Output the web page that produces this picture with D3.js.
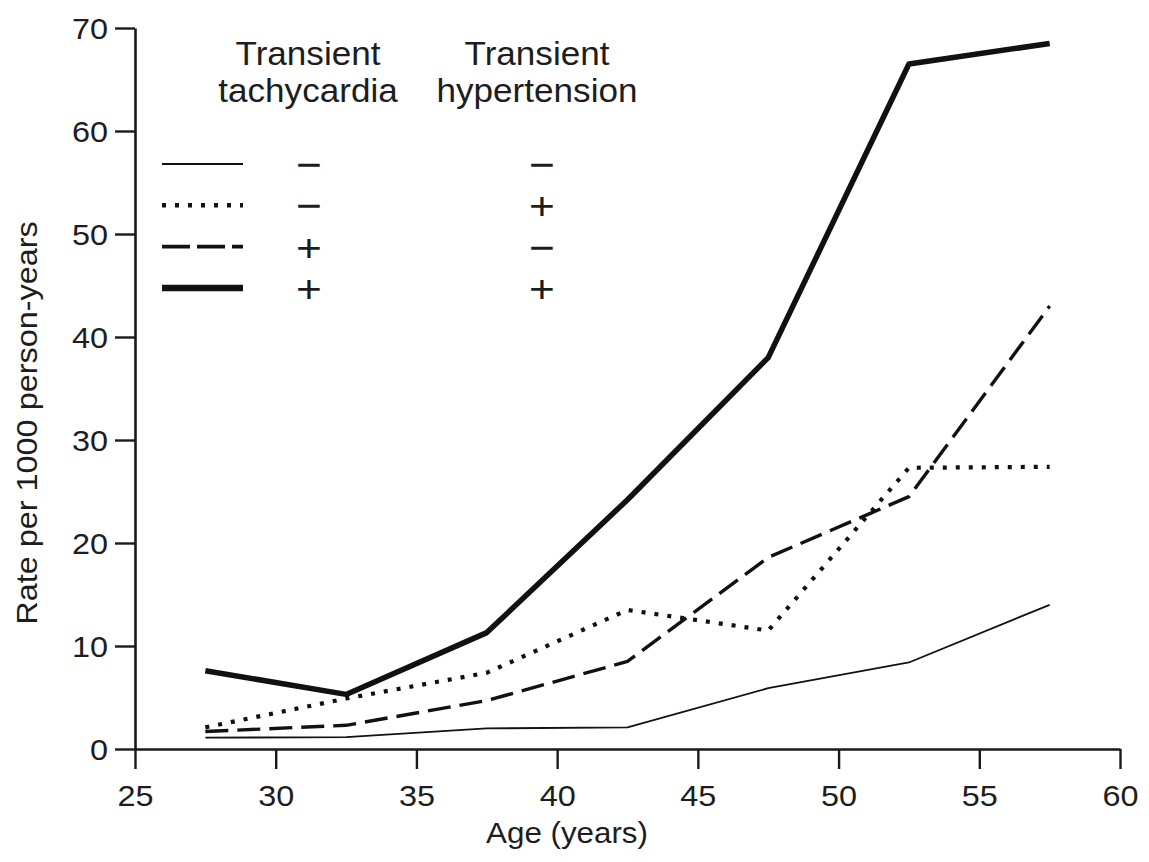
<!DOCTYPE html>
<html>
<head>
<meta charset="utf-8">
<script src="https://cdn.jsdelivr.net/npm/d3@7"></script>
<style>
  body { margin: 0; background: #fff; }
  text { font-family: "Liberation Sans", Arial, sans-serif; fill: #1d1d1d; }
</style>
</head>
<body>
<div id="chart"></div>
<script>
// data (age group midpoints, rate per 1000 person-years)
const ages = [27.5, 32.5, 37.5, 42.5, 47.5, 52.5, 57.5];
const neither = [1.1, 1.15, 2.0, 2.1, 5.9, 8.4, 14.0];     // tachy -, hyper -
const hyperOnly = [2.1, 4.9, 7.4, 13.5, 11.5, 27.3, 27.4];  // tachy -, hyper +
const tachyOnly = [1.7, 2.3, 4.7, 8.5, 18.6, 24.5, 43.0];   // tachy +, hyper -
const both = [7.6, 5.3, 11.3, 24.2, 38.0, 66.5, 68.5];      // tachy +, hyper +

const xTicks = [25, 30, 35, 40, 45, 50, 55, 60];
const yTicks = [0, 10, 20, 30, 40, 50, 60, 70];
const legendTachy = ['−', '−', '+', '+'];
const legendHyper = ['−', '+', '−', '+'];

const width = 1149;
const height = 862;
const sx = 1.08; // the figure's font is a little wider than Arial

const svg = d3.select('#chart').append('svg')
  .attr('width', width)
  .attr('height', height);

const x = d3.scaleLinear().domain([25, 60]).range([135, 1120]);
const y = d3.scaleLinear().domain([0, 70]).range([749, 28]);

// line styles, same order as the legend rows
const styles = [
  { values: neither,   width: 1.8, dash: null },
  { values: hyperOnly, width: 4.2, dash: '4,9' },
  { values: tachyOnly, width: 3.4, dash: '23,9' },
  { values: both,      width: 5.5, dash: null }
];

// axes
const xAxis = d3.axisBottom(x).tickValues(xTicks).tickSize(20).tickSizeOuter(0);
const yAxis = d3.axisLeft(y).tickValues(yTicks).tickSize(20).tickSizeOuter(0);

const gx = svg.append('g').attr('transform', `translate(0, ${y(0)})`).call(xAxis);
const gy = svg.append('g').attr('transform', `translate(${x(25)}, 0)`).call(yAxis);

[gx, gy].forEach(g => {
  g.select('.domain').attr('stroke', '#1a1a1a').attr('stroke-width', 2.6);
  g.selectAll('.tick line').attr('stroke', '#1a1a1a').attr('stroke-width', 2.4);
  g.selectAll('.tick text')
    .attr('font-size', 30)
    .attr('fill', '#1d1d1d')
    .attr('font-family', '"Liberation Sans", Arial, sans-serif');
});

gx.selectAll('.tick text')
  .attr('y', 57)
  .attr('dy', null)
  .attr('transform', `scale(${sx},1)`);

gy.selectAll('.tick text')
  .attr('x', -27 / sx)
  .attr('dy', null)
  .attr('y', 10.7)
  .attr('transform', `scale(${sx},1)`);

// axis titles
svg.append('text')
  .attr('transform', `translate(567, 843) scale(${sx},1)`)
  .attr('text-anchor', 'middle')
  .attr('font-size', 29)
  .text('Age (years)');

svg.append('text')
  .attr('transform', `translate(37, 423) rotate(-90) scale(${sx},1)`)
  .attr('text-anchor', 'middle')
  .attr('font-size', 30)
  .text('Rate per 1000 person-years');

// series
const line = d3.line()
  .x((d, i) => x(ages[i]))
  .y(d => y(d));

const lines = svg.append('g').attr('class', 'lines');
styles.forEach(s => {
  lines.append('path')
    .datum(s.values)
    .attr('d', line)
    .attr('fill', 'none')
    .attr('stroke', '#111')
    .attr('stroke-width', s.width)
    .attr('stroke-dasharray', s.dash)
    .attr('stroke-linejoin', 'round');
});

// legend
const legend = svg.append('g').attr('class', 'legend');

const headers = [
  { cx: 308, lines: ['Transient', 'tachycardia'] },
  { cx: 537, lines: ['Transient', 'hypertension'] }
];
headers.forEach(h => {
  h.lines.forEach((t, k) => {
    legend.append('text')
      .attr('transform', `translate(${h.cx}, ${65 + k * 37}) scale(${sx},1)`)
      .attr('text-anchor', 'middle')
      .attr('font-size', 32.5)
      .text(t);
  });
});

const rowY0 = 164;
const rowGap = 41.3;
styles.forEach((s, i) => {
  const ry = rowY0 + i * rowGap;
  legend.append('line')
    .attr('x1', 162)
    .attr('x2', 243)
    .attr('y1', ry)
    .attr('y2', ry)
    .attr('stroke', '#111')
    .attr('stroke-width', i === 3 ? 6.5 : s.width + 0.4)
    .attr('stroke-dasharray', i === 2 ? '28,7' : s.dash);

  [[309, legendTachy[i]], [542, legendHyper[i]]].forEach(([cx, sign]) => {
    legend.append('text')
      .attr('transform', `translate(${cx}, ${ry + 14}) scale(${sx * 1.05},1)`)
      .attr('text-anchor', 'middle')
      .attr('font-size', 39)
      .text(sign);
  });
});
</script>
</body>
</html>
